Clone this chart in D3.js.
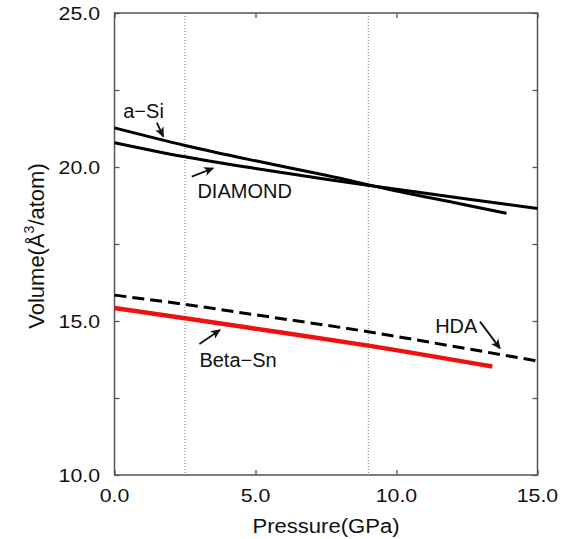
<!DOCTYPE html>
<html><head><meta charset="utf-8">
<script src="https://cdn.jsdelivr.net/npm/d3@7"></script>
<style>
body{margin:0;background:#fff;}
text{font-family:"Liberation Sans",Arial,Helvetica,sans-serif;fill:#111;}
</style></head>
<body><svg id="c" width="572" height="539"></svg>
<script>
// data
const pressureASi = [0, 2.5, 5, 7.5, 10, 12.5, 13.9];
const volumeASi   = [21.27, 20.70, 20.20, 19.73, 19.22, 18.76, 18.50];
const pressureDiamond = [0, 2.5, 5, 7.5, 10, 12.5, 15];
const volumeDiamond   = [20.79, 20.33, 19.95, 19.60, 19.28, 18.96, 18.65];
const pressureHDA = [0, 2.5, 5, 9, 12, 15];
const volumeHDA   = [15.84, 15.54, 15.20, 14.65, 14.18, 13.70];
const pressureBetaSn = [0, 2.5, 5, 9, 13.4];
const volumeBetaSn   = [15.42, 15.09, 14.75, 14.20, 13.52];
const xTicks = [0, 5, 10, 15];
const xTickLabels = ["0.0", "5.0", "10.0", "15.0"];
const yTicks = [10, 12.5, 15, 17.5, 20, 22.5, 25];
const yLabeled = [10, 15, 20, 25];
const yTickLabels = ["10.0", "15.0", "20.0", "25.0"];
const refPressures = [2.5, 9.0];
const labels = ["a\u2212Si", "DIAMOND", "HDA", "Beta\u2212Sn"];

const W = 572, H = 539;
const m = {l: 114.5, r: 34.5, t: 13, b: 64};
const svg = d3.select("#c");
const x = d3.scaleLinear().domain([0, 15]).range([m.l, W - m.r]);
const y = d3.scaleLinear().domain([10, 25]).range([H - m.b, m.t]);

svg.append("defs").append("marker")
  .attr("id", "ah").attr("viewBox", "0 0 10 10").attr("refX", 9).attr("refY", 5)
  .attr("markerWidth", 10).attr("markerHeight", 10).attr("markerUnits", "userSpaceOnUse")
  .attr("orient", "auto")
  .append("path").attr("d", "M0,0.5 L10,5 L0,9.5 L2.5,5 Z").attr("fill", "#111");

// dotted reference lines
svg.selectAll(".ref").data(refPressures).enter().append("line")
  .attr("x1", d => x(d)).attr("x2", d => x(d)).attr("y1", y(25)).attr("y2", y(10))
  .attr("stroke", "#777").attr("stroke-width", 1).attr("stroke-dasharray", "1,2");

// axes with inward ticks
const frame = "#555";
const gB = svg.append("g").attr("transform", `translate(0,${y(10)})`)
  .call(d3.axisTop(x).tickValues(xTicks).tickSize(5).tickFormat(""));
const gT = svg.append("g").attr("transform", `translate(0,${y(25)})`)
  .call(d3.axisBottom(x).tickValues(xTicks).tickSize(5).tickFormat(""));
const gL = svg.append("g").attr("transform", `translate(${x(0)},0)`)
  .call(d3.axisRight(y).tickValues(yTicks).tickSize(5).tickFormat(""));
const gR = svg.append("g").attr("transform", `translate(${x(15)},0)`)
  .call(d3.axisLeft(y).tickValues(yTicks).tickSize(5).tickFormat(""));
[gB, gT, gL, gR].forEach(g => {
  g.select(".domain").remove();
  g.selectAll("line").attr("stroke", frame).attr("stroke-width", 1.3);
});
svg.append("rect").attr("x", x(0)).attr("y", y(25)).attr("width", x(15) - x(0)).attr("height", y(10) - y(25))
  .attr("fill", "none").attr("stroke", frame).attr("stroke-width", 1.5);

// tick labels
const stretch = 1.12;
svg.selectAll(".xl").data(xTicks).enter().append("text")
  .attr("class", "tl").attr("x", d => x(d)).attr("y", 502).attr("text-anchor", "middle")
  .attr("font-size", 19).text((d, i) => xTickLabels[i]);
svg.selectAll(".yl").data(yLabeled).enter().append("text")
  .attr("class", "tl").attr("x", 100).attr("y", d => y(d) + 7).attr("text-anchor", "end")
  .attr("font-size", 19).text((d, i) => yTickLabels[i]);
svg.selectAll("text.tl").each(function () {
  const w = this.getComputedTextLength();
  d3.select(this).attr("textLength", w * stretch).attr("lengthAdjust", "spacingAndGlyphs");
});

// axis titles
svg.append("text").attr("x", (x(0) + x(15)) / 2).attr("y", 533).attr("text-anchor", "middle")
  .attr("font-size", 20).attr("textLength", 147).attr("lengthAdjust", "spacingAndGlyphs")
  .text("Pressure(GPa)");
const yt = svg.append("text").attr("transform", `translate(43.5,${(y(10) + y(25)) / 2 + 2}) rotate(-90)`)
  .attr("text-anchor", "middle").attr("font-size", 22);
yt.append("tspan").text("Volume(Å");
yt.append("tspan").attr("font-size", 14).attr("dy", -10).text("3");
yt.append("tspan").attr("dy", 10).text("/atom)");

// curves
const line = d3.line().x(d => x(d[0])).y(d => y(d[1])).curve(d3.curveMonotoneX);
const zip = (a, b) => a.map((v, i) => [v, b[i]]);
svg.append("path").datum(zip(pressureASi, volumeASi)).attr("d", line)
  .attr("fill", "none").attr("stroke", "#000").attr("stroke-width", 3);
svg.append("path").datum(zip(pressureDiamond, volumeDiamond)).attr("d", line)
  .attr("fill", "none").attr("stroke", "#000").attr("stroke-width", 3);
svg.append("path").datum(zip(pressureHDA, volumeHDA)).attr("d", line)
  .attr("fill", "none").attr("stroke", "#000").attr("stroke-width", 3).attr("stroke-dasharray", "12,6");
svg.append("path").datum(zip(pressureBetaSn, volumeBetaSn)).attr("d", line)
  .attr("fill", "none").attr("stroke", "#f01010").attr("stroke-width", 4.5);

// annotations (label positions in data units)
const ann = [
  {t: labels[0], tx: 0.31, ty: 21.59, a: [[1.50, 21.44], [1.73, 20.99]]},
  {t: labels[1], tx: 2.94, ty: 19.00, a: [[2.74, 19.69], [3.50, 19.96]]},
  {t: labels[2], tx: 11.37, ty: 14.61, a: [[12.96, 14.98], [13.67, 14.11]]},
  {t: labels[3], tx: 3.01, ty: 13.51, a: [[3.01, 14.25], [3.74, 14.71]]}
];
ann.forEach(d => {
  svg.append("text").attr("x", x(d.tx)).attr("y", y(d.ty)).attr("font-size", 20).text(d.t);
  svg.append("line").attr("x1", x(d.a[0][0])).attr("y1", y(d.a[0][1]))
    .attr("x2", x(d.a[1][0])).attr("y2", y(d.a[1][1]))
    .attr("stroke", "#111").attr("stroke-width", 1.8).attr("marker-end", "url(#ah)");
});
</script></body></html>
